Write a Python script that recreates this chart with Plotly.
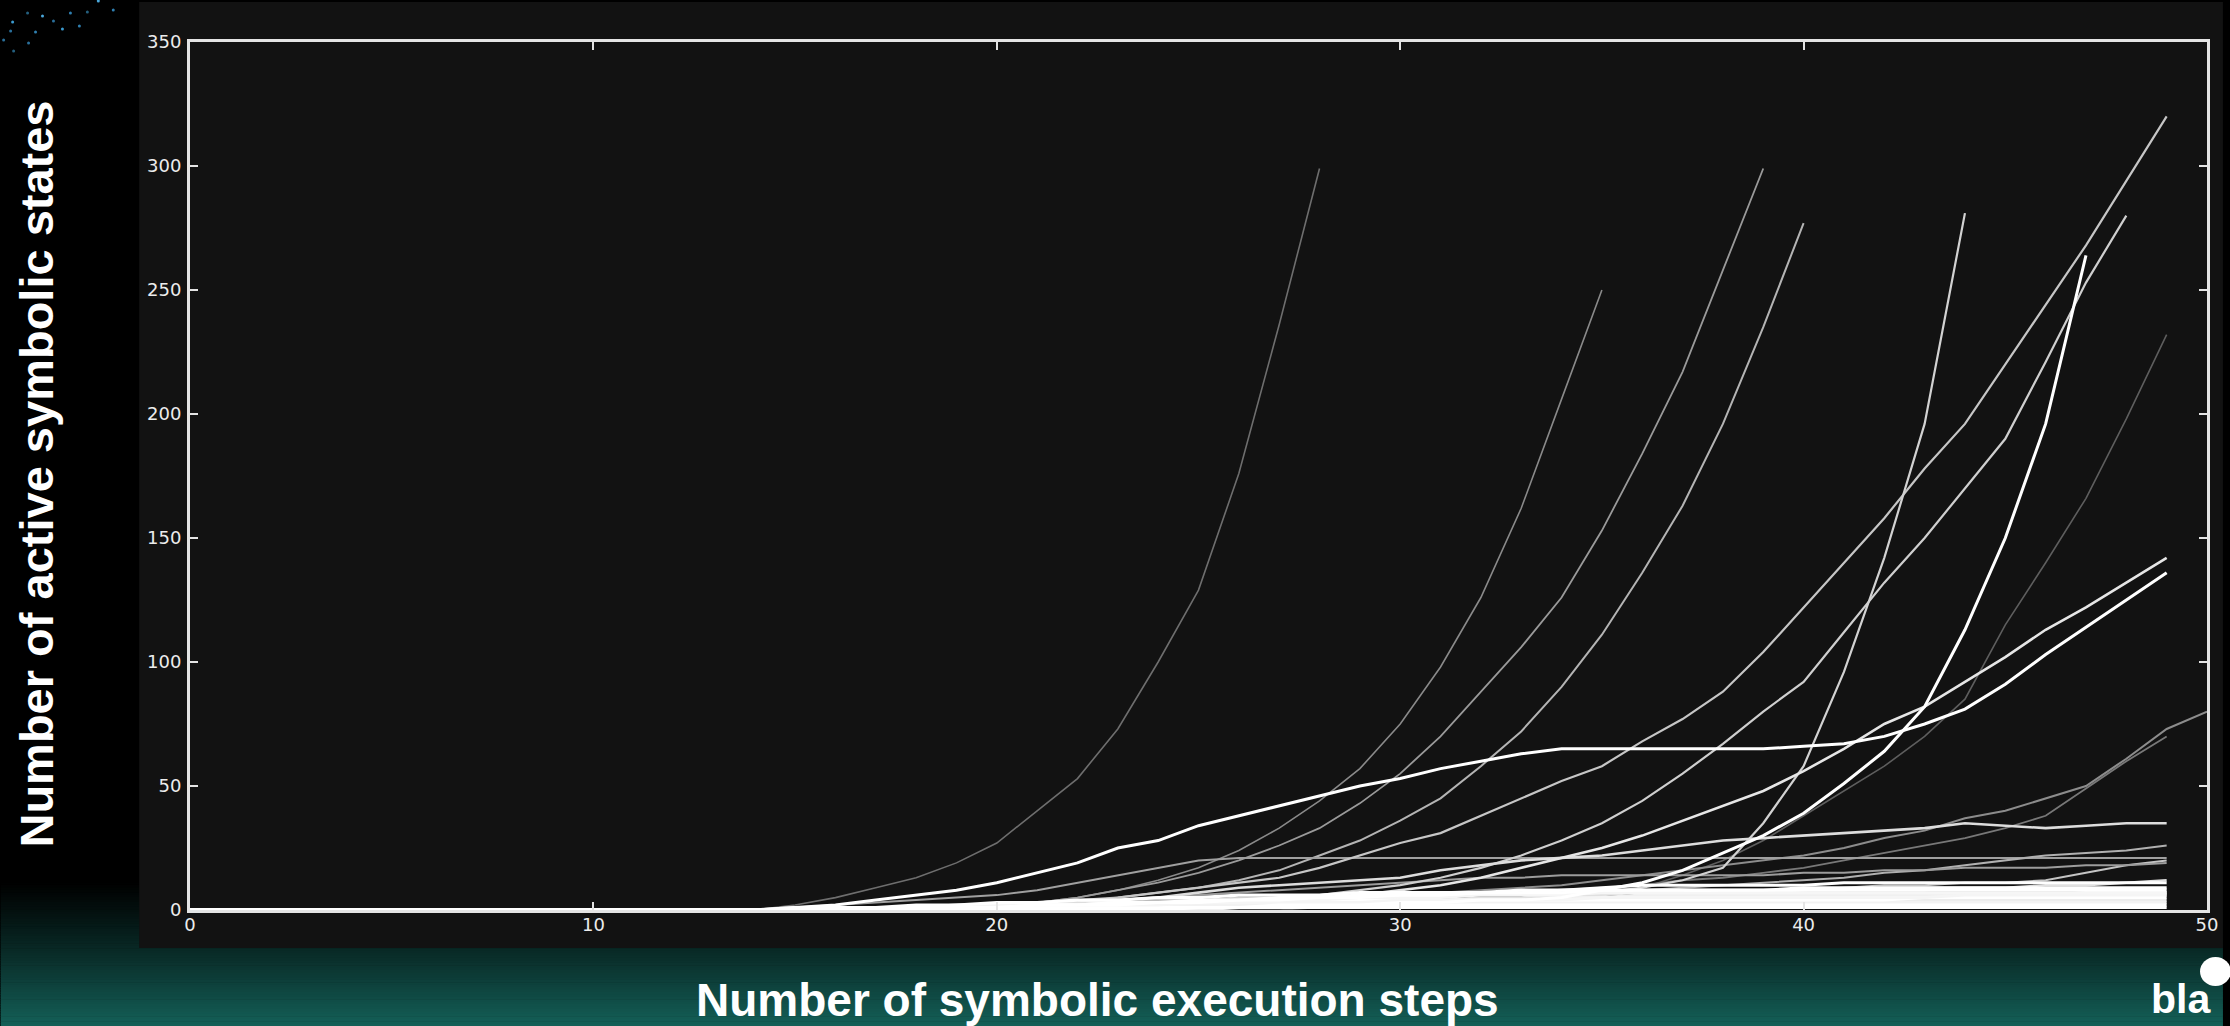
import plotly.graph_objects as go

# ---------------------------------------------------------------------------
# Active symbolic states per execution step, one list per program run.
# Index = execution step (0 .. last step reached by that run).
# ---------------------------------------------------------------------------
run_a = [0] * 14 + [0, 2, 5, 9, 13, 19, 27, 40, 53, 73, 100, 129, 176, 236, 299]
run_b = [0] * 19 + [1, 2, 3, 5, 8, 12, 17, 24, 33, 44, 57, 75, 98, 126, 162, 206, 250]
run_c = [0] * 19 + [1, 2, 3, 5, 8, 11, 15, 20, 26, 33, 43, 55, 70, 88, 106, 126, 153,
                    184, 217, 258, 299]
run_d = [0] * 20 + [1, 2, 3, 5, 7, 9, 12, 16, 22, 28, 36, 45, 58, 72, 90, 111, 136,
                    163, 196, 235, 277]
run_e = [0] * 24 + [1, 1, 2, 2, 3, 3, 4, 4, 5, 5, 6, 7, 9, 12, 17, 35, 58, 96, 142,
                    196, 281]
run_f = [0] * 17 + [1, 1, 2, 2, 3, 4, 5, 7, 9, 11, 13, 17, 22, 27, 31, 38, 45, 52, 58,
                    68, 77, 88, 104, 122, 140, 158, 178, 196, 220, 244, 268, 294, 320]
run_g = [0] * 19 + [1, 1, 2, 2, 3, 3, 4, 5, 5, 6, 8, 10, 13, 17, 22, 28, 35, 44, 55,
                    67, 80, 92, 112, 132, 150, 170, 190, 221, 253, 280]
run_h = [0] * 25 + [1, 1, 2, 2, 2, 3, 3, 4, 4, 5, 8, 11, 16, 23, 30, 39, 51, 64, 82,
                    113, 150, 196, 264]
run_i = [0] * 28 + [1, 1, 2, 2, 3, 4, 5, 6, 9, 14, 20, 28, 38, 48, 58, 70, 85, 115,
                    140, 166, 198, 232]
run_j = [0] * 23 + [1, 1, 2, 2, 3, 4, 6, 8, 10, 13, 17, 21, 25, 30, 36, 42, 48, 56,
                    65, 75, 82, 92, 102, 113, 122, 132, 142]
run_l = [0] * 15 + [1, 2, 4, 6, 8, 11, 15, 19, 25, 28, 34, 38, 42, 46, 50, 53, 57, 60,
                    63, 65, 65, 65, 65, 65, 65, 66, 67, 70, 75, 81, 91, 103, 114, 125,
                    136]
run_n = [0] * 15 + [1, 2, 3, 4, 5, 6, 8, 11, 14, 17, 20, 21, 21, 21, 21, 21, 21, 21,
                    21, 21, 21, 21, 21, 21, 21, 21, 21, 21, 21, 21, 21, 21, 21, 21, 21]
run_o = [0] * 18 + [1, 1, 2, 2, 3, 4, 5, 7, 9, 10, 11, 12, 13, 16, 18, 20, 21, 22, 24,
                    26, 28, 29, 30, 31, 32, 33, 35, 34, 33, 34, 35, 35]
run_p = [0] * 22 + [1, 1, 2, 2, 3, 3, 4, 5, 6, 7, 8, 9, 10, 12, 14, 16, 18, 20, 22, 25,
                    29, 32, 37, 40, 45, 50, 61, 73, 80]
run_q = [0] * 24 + [1, 1, 2, 2, 3, 3, 4, 5, 6, 7, 8, 9, 10, 12, 13, 15, 17, 20, 23, 26,
                    29, 33, 38, 49, 60, 70]
run_r = [0] * 22 + [1, 1, 2, 2, 3, 3, 4, 4, 5, 5, 6, 6, 7, 7, 8, 9, 10, 11, 12, 13, 15,
                    16, 18, 20, 22, 23, 24, 26]
run_s = [0] * 26 + [1, 1, 2, 2, 3, 3, 4, 4, 5, 5, 6, 6, 7, 7, 8, 9, 10, 10, 11, 11, 12,
                    15, 18, 20]
run_t1 = [0] * 15 + [1, 1, 1, 2, 2, 3, 3, 4, 4, 5, 5, 6, 6, 6, 7, 7, 7, 7, 8, 8, 8, 8,
                     8, 8, 8, 8, 8, 8, 8, 8, 8, 8, 8, 8, 8]
run_t2 = [0] * 18 + [1, 1, 1, 2, 2, 2, 3, 3, 4, 4, 5, 5, 6, 6, 7, 7, 8, 9, 10, 10, 10,
                     10, 10, 11, 11, 11, 11, 11, 11, 11, 11, 11]
run_t3 = [0] * 16 + [1, 1, 1, 1, 2, 2, 2, 2, 2, 3, 3, 3, 3, 3, 4, 4, 4, 4, 4, 5, 5, 5,
                     5, 5, 5, 5, 5, 5, 6, 6, 6, 6, 6, 6]
run_t4 = [0] * 18 + [1, 1, 1, 1, 1, 1, 2, 2, 2, 2, 2, 2, 3, 3, 3, 3, 3, 3, 3, 3, 3, 3,
                     3, 3, 3, 3, 3, 3, 3, 3, 3, 3]
run_t5 = [0] * 20 + [1, 1, 1, 1, 1, 1, 1, 1, 1, 1, 2, 2, 2, 2, 2, 2, 2, 2, 2, 2, 2, 2,
                     2, 2, 2, 2, 2, 2, 2, 2]
run_t6 = [0] * 22 + [1, 1, 1, 1, 2, 2, 3, 3, 4, 4, 5, 5, 6, 6, 7, 7, 8, 8, 8, 8, 9, 9,
                     9, 9, 10, 10, 11, 12]
run_t7 = [0] * 17 + [1, 1, 2, 2, 3, 3, 3, 4, 4, 4, 5, 5, 5, 6, 6, 6, 7, 7, 7, 7, 7, 7,
                     7, 7, 7, 7, 7, 6, 6, 6, 6, 6, 6]
run_t8 = [0] * 20 + [1, 2, 3, 4, 5, 6, 7, 8, 9, 10, 11, 12, 13, 13, 14, 14, 14, 14, 14,
                     14, 15, 15, 16, 16, 17, 17, 17, 18, 18, 19]
run_t9 = [0] * 16 + [1, 1, 1, 2, 2, 2, 2, 3, 3, 3, 3, 3, 4, 4, 4, 4, 4, 4, 4, 4, 4, 4,
                     4, 4, 4, 4, 4, 5, 5, 5, 5, 5, 5, 5]
run_t10 = [0] * 19 + [1, 1, 2, 2, 3, 3, 4, 4, 5, 5, 6, 6, 6, 7, 7, 7, 8, 8, 8, 8, 8, 9,
                      9, 9, 9, 9, 9, 9, 9, 9, 9]
run_t11 = [0] * 17 + [1, 1, 1, 2, 2, 2, 3, 3, 3, 4, 4, 4, 5, 5, 5, 6, 6, 6, 7, 7, 7, 7,
                      7, 7, 7, 7, 7, 7, 7, 7, 7, 7, 7]
run_t12 = [0] * 21 + [1, 1, 1, 1, 1, 1, 1, 1, 1, 1, 1, 1, 1, 1, 1, 1, 1, 1, 1, 1, 1, 1,
                      1, 1, 1, 1, 1, 1, 1]
run_t13 = [0] * 24 + [1, 1, 1, 1, 2, 2, 2, 2, 2, 2, 3, 3, 3, 3, 3, 3, 3, 4, 4, 4, 4, 4,
                      4, 4, 4, 4]
run_t14 = [0] * 26 + [1, 1, 2, 2, 3, 3, 4, 4, 5, 5, 6, 6, 6, 6, 6, 6, 6, 6, 6, 6, 6, 7,
                      7, 7]

X_TICKS = [0, 10, 20, 30, 40, 50]
Y_TICKS = [0, 50, 100, 150, 200, 250, 300, 350]

# (series, colour, width) - dim curves first so the bright ones sit on top
RUNS = [
    (run_a, "#6e6e6e", 1.6),
    (run_i, "#5e5e5e", 1.6),
    (run_q, "#787878", 1.8),
    (run_p, "#8c8c8c", 2.0),
    (run_b, "#8a8a8a", 1.6),
    (run_c, "#9a9a9a", 1.8),
    (run_d, "#b4b4b4", 2.0),
    (run_n, "#a0a0a0", 2.0),
    (run_r, "#b0b0b0", 2.0),
    (run_s, "#c4c4c4", 2.0),
    (run_t8, "#9c9c9c", 2.0),
    (run_t7, "#bdbdbd", 2.0),
    (run_f, "#c6c6c6", 2.2),
    (run_g, "#cfcfcf", 2.2),
    (run_e, "#d2d2d2", 2.2),
    (run_o, "#dddddd", 2.6),
    (run_j, "#e6e6e6", 2.6),
    (run_t6, "#e0e0e0", 2.4),
    (run_t13, "#ececec", 3.0),
    (run_t14, "#f0f0f0", 3.0),
    (run_t4, "#f2f2f2", 3.0),
    (run_t12, "#ffffff", 3.0),
    (run_t5, "#ffffff", 3.0),
    (run_t9, "#ffffff", 3.0),
    (run_t11, "#f6f6f6", 3.0),
    (run_t3, "#f5f5f5", 3.0),
    (run_t10, "#ffffff", 3.0),
    (run_t2, "#ffffff", 3.0),
    (run_t1, "#ffffff", 3.2),
    (run_l, "#ffffff", 3.0),
    (run_h, "#ffffff", 3.0),
]

fig = go.Figure()
for values, colour, width in RUNS:
    fig.add_trace(go.Scatter(
        x=list(range(len(values))), y=values, mode="lines",
        line=dict(color=colour, width=width), hoverinfo="skip", showlegend=False,
    ))

# --- page geometry (pixels) -------------------------------------------------
W, H = 2230, 1026
L, R, T, B = 190, 2214, 42, 910


def px(xp):
    return (xp - L) / (R - L)


def py(yp):
    return (B - yp) / (B - T)


shapes = []
# slide background: black fading to teal at the bottom
bands = 60
y0, y1 = 880, H
c0, c1 = (0, 0, 0), (20, 96, 88)
for k in range(bands):
    t = (k + 0.5) / bands
    t = t ** 1.15
    col = tuple(int(round(a + (b - a) * t)) for a, b in zip(c0, c1))
    ya = y0 + (y1 - y0) * k / bands
    yb = y0 + (y1 - y0) * (k + 1) / bands + 0.6
    shapes.append(dict(type="rect", xref="paper", yref="paper", layer="below",
                       x0=px(0), x1=px(W), y0=py(yb), y1=py(ya),
                       line=dict(width=0), fillcolor="rgb(%d,%d,%d)" % col))
# dark chart panel
shapes.append(dict(type="rect", xref="paper", yref="paper", layer="below",
                   x0=px(139), x1=px(W), y0=py(948), y1=py(2),
                   line=dict(width=0), fillcolor="#121212"))
# scattered star dots in the top-left corner
for sx, sy, sc in [(12, 22, "#3b9bd0"), (42, 16, "#4aa8dc"), (70, 13, "#2f7fb0"),
                   (98, 1, "#4aa8dc"), (35, 32, "#2f7fb0"), (62, 29, "#3b9bd0"),
                   (79, 26, "#2f7fb0"), (10, 31, "#2a6f9a"), (28, 43, "#2a6f9a"),
                   (3, 40, "#2a6f9a"), (13, 51, "#24607f"), (113, 10, "#2f7fb0"),
                   (87, 12, "#24607f"), (53, 21, "#2a6f9a"), (27, 13, "#24607f")]:
    shapes.append(dict(type="circle", xref="paper", yref="paper", layer="below",
                       x0=px(sx - 1.5), x1=px(sx + 1.5), y0=py(sy + 1.5), y1=py(sy - 1.5),
                       line=dict(width=0), fillcolor=sc))
# conference logo head, bottom-right corner
shapes.append(dict(type="circle", xref="paper", yref="paper", layer="above",
                   x0=px(2207), x1=px(2238), y0=py(986), y1=py(957),
                   line=dict(width=0), fillcolor="#ffffff"))

annotations = [
    dict(text="<b>Number of active symbolic states</b>", textangle=-90,
         xref="paper", yref="paper", x=px(36), y=py(474), showarrow=False,
         xanchor="center", yanchor="middle",
         font=dict(family="Liberation Sans, Arial", size=47, color="#ffffff")),
    dict(text="<b>Number of symbolic execution steps</b>",
         xref="paper", yref="paper", x=px(1101), y=py(1000), showarrow=False,
         xanchor="center", yanchor="middle",
         font=dict(family="Liberation Sans, Arial", size=46, color="#ffffff")),
    dict(text="<b>bla</b>",
         xref="paper", yref="paper", x=px(2156), y=py(999), showarrow=False,
         xanchor="left", yanchor="middle",
         font=dict(family="Liberation Sans, Arial", size=41, color="#ffffff")),
]

axis_common = dict(
    showline=True, linecolor="#e4e4e4", linewidth=3, mirror="ticks",
    ticks="inside", ticklen=8, tickwidth=2, tickcolor="#e4e4e4",
    showgrid=False, zeroline=False,
    tickfont=dict(family="DejaVu Sans", size=18, color="#ececec"),
)

fig.update_layout(
    width=W, height=H,
    margin=dict(l=L, r=W - R, t=T, b=H - B),
    paper_bgcolor="#000000", plot_bgcolor="#121212",
    xaxis=dict(range=[0, 50], tickvals=X_TICKS, ticklabelstandoff=-4, **axis_common),
    yaxis=dict(range=[0, 350], tickvals=Y_TICKS, ticklabelstandoff=2, **axis_common),
    shapes=shapes, annotations=annotations, showlegend=False,
)

fig.write_html("out.html")
